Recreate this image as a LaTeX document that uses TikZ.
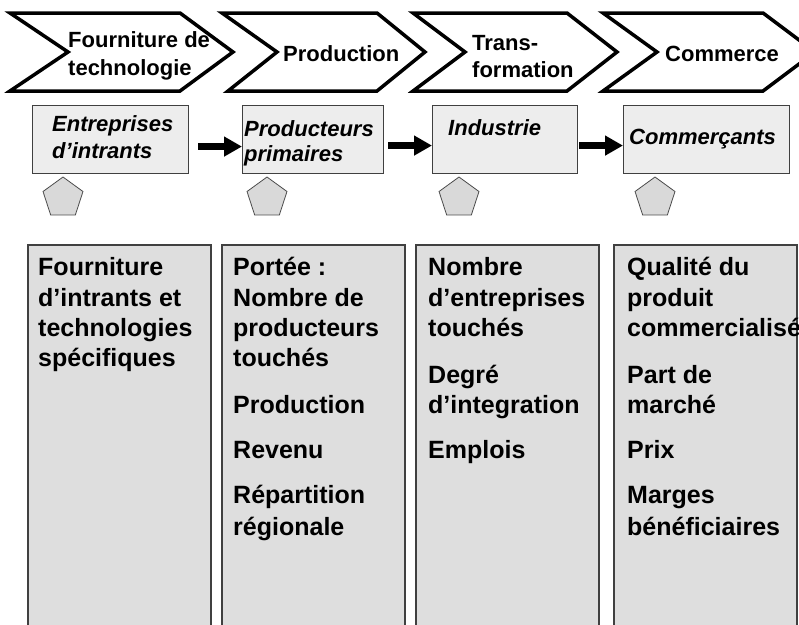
\documentclass[tikz,border=0pt]{standalone}
\usepackage{fontspec}
\setmainfont{Liberation Sans}
\usetikzlibrary{arrows.meta,shapes.geometric}
\begin{document}
\begin{tikzpicture}[x=1pt,y=-1pt,
 chev/.style={draw=black,line width=3.5pt,line join=miter,fill=white},
 ctext/.style={anchor=base west,inner sep=0pt,font=\fontsize{22}{26}\selectfont\bfseries},
 mbox/.style={draw=black!75,fill=black!7,line width=1.1pt,inner sep=0pt,anchor=north west,minimum height=68pt},
 mtext/.style={anchor=base west,inner sep=0pt,font=\fontsize{22}{26}\selectfont\bfseries\itshape},
 penta/.style={regular polygon,regular polygon sides=5,minimum size=42pt,inner sep=0pt,draw=black!70,fill=black!15,line width=0.8pt},
 bbox/.style={draw=black!75,fill=black!13,line width=1.5pt,inner sep=0pt,anchor=north west,minimum height=400pt,minimum width=183pt},
 btext/.style={anchor=base west,inner sep=0pt,font=\fontsize{25}{30}\selectfont\bfseries},
 bigarrow/.style={line width=7pt,-{Triangle[length=18pt,width=19pt]}}
]
\clip (0,0) rectangle (799,624);
\fill[white] (0,0) rectangle (799,624);

% chevrons
\draw[chev] (10,13) -- (180,13) -- (233,52) -- (180,91) -- (10,91) -- (68,52) -- cycle;
\draw[chev] (222,13) -- (377,13) -- (425,52) -- (377,91) -- (228,91) -- (277,52) -- cycle;
\draw[chev] (413,13) -- (567,13) -- (617,52) -- (567,91) -- (413,91) -- (465,52) -- cycle;
\draw[chev] (603,13) -- (763,13) -- (815,52) -- (763,91) -- (603,91) -- (657,52) -- cycle;

\node[ctext] (c1a) at (68,47) {Fourniture de};
\node[ctext] (c1b) at (68,75) {technologie};
\node[ctext] (c2) at (283,61) {Production};
\node[ctext] (c3a) at (472,50) {Trans-};
\node[ctext] (c3b) at (472,77) {formation};
\node[ctext] (c4) at (665,61) {Commerce};

% middle boxes
\node[mbox,minimum width=156pt] (m1) at (32,105) {};
\node[mbox,minimum width=141pt] (m2) at (242,105) {};
\node[mbox,minimum width=145pt] (m3) at (432,105) {};
\node[mbox,minimum width=166pt] (m4) at (623,105) {};

\node[mtext] (m1a) at (52,131) {Entreprises};
\node[mtext] (m1b) at (52,158) {d’intrants};
\node[mtext] (m2a) at (244,136) {Producteurs};
\node[mtext] (m2b) at (244,161) {primaires};
\node[mtext] (m3a) at (448,135) {Industrie};
\node[mtext] (m4a) at (629,144) {Commerçants};

\draw[bigarrow,shorten <=9pt] ([yshift=-7pt]m1.east) -- ([yshift=-7pt]m2.west);
\draw[bigarrow,shorten <=4pt] ([yshift=-6pt]m2.east) -- ([yshift=-6pt]m3.west);
\draw[bigarrow,shorten <=1pt] ([yshift=-6pt]m3.east) -- ([yshift=-6pt]m4.west);

% pentagons
\node[penta] (p1) at (63,198) {};
\node[penta] (p2) at (267,198) {};
\node[penta] (p3) at (459,198) {};
\node[penta] (p4) at (655,198) {};

% bottom boxes
\node[bbox] (b1) at (27,244) {};
\node[bbox] (b2) at (221,244) {};
\node[bbox] (b3) at (415,244) {};
\node[bbox] (b4) at (613,244) {};

\node[btext] (b1l1) at (38,275) {Fourniture};
\node[btext] (b1l2) at (38,306) {d’intrants et};
\node[btext] (b1l3) at (38,336) {technologies};
\node[btext] (b1l4) at (38,366) {spécifiques};

\node[btext] (b2l1) at (233,275) {Portée :};
\node[btext] (b2l2) at (233,306) {Nombre de};
\node[btext] (b2l3) at (233,336) {producteurs};
\node[btext] (b2l4) at (233,366) {touchés};
\node[btext] (b2l5) at (233,413) {Production};
\node[btext] (b2l6) at (233,458) {Revenu};
\node[btext] (b2l7) at (233,503) {Répartition};
\node[btext] (b2l8) at (233,535) {régionale};

\node[btext] (b3l1) at (428,275) {Nombre};
\node[btext] (b3l2) at (428,306) {d’entreprises};
\node[btext] (b3l3) at (428,336) {touchés};
\node[btext] (b3l4) at (428,383) {Degré};
\node[btext] (b3l5) at (428,413) {d’integration};
\node[btext] (b3l6) at (428,458) {Emplois};

\node[btext] (b4l1) at (627,275) {Qualité du};
\node[btext] (b4l2) at (627,306) {produit};
\node[btext] (b4l3) at (627,336) {commercialisé};
\node[btext] (b4l4) at (627,383) {Part de};
\node[btext] (b4l5) at (627,413) {marché};
\node[btext] (b4l6) at (627,458) {Prix};
\node[btext] (b4l7) at (627,503) {Marges};
\node[btext] (b4l8) at (627,535) {bénéficiaires};
\end{tikzpicture}
\end{document}
